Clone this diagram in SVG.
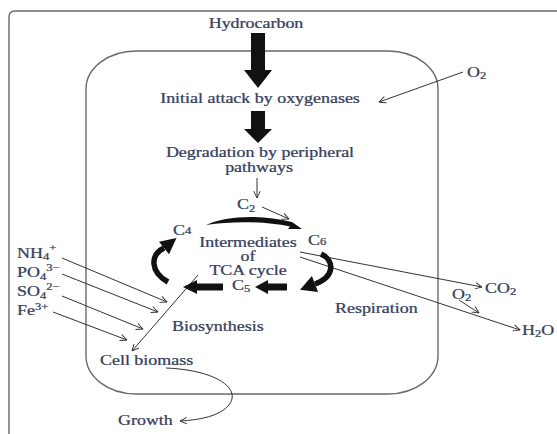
<svg xmlns="http://www.w3.org/2000/svg" width="557" height="434" viewBox="0 0 557 434">
  <defs>
    <marker id="open" viewBox="0 0 10 10" refX="9.5" refY="5" markerWidth="8" markerHeight="8" markerUnits="userSpaceOnUse" orient="auto">
      <path d="M1,1 L9.5,5 L1,9" fill="none" stroke="#333" stroke-width="1.2"/>
    </marker>
  </defs>
  <style>
    .t { font-family: "Liberation Serif", "Times New Roman", serif; font-size: 13.6px; fill: #35405c; stroke: #35405c; stroke-width: 0.25px; }
    .sub { font-size: 9.5px; }
    .thin { fill: none; stroke: #333; stroke-width: 1; marker-end: url(#open); }
    .boundary { fill: none; stroke: #6a6a6a; stroke-width: 1.4; }
    .thick { fill: #111; stroke: none; }
    .curve { fill: none; stroke: #111; stroke-width: 5.5; }
  </style>
  <rect width="557" height="434" fill="#ffffff"/>

  <g id="frame">
    <path class="boundary" d="M9,440 L9,17 Q9,11 15,11 L560,11"/>
  </g>
  <g id="cell">
    <rect class="boundary" x="86" y="51" width="352" height="343" rx="50" ry="38"/>
  </g>

  <g id="connectors">
    <path class="thick" d="M251,33 L265,33 L265,70 L272,70 L258,88 L244,70 L251,70 Z"/>
    <path class="thick" d="M251,111 L265,111 L265,129 L272,129 L258,143 L244,129 L251,129 Z"/>
    <path class="thin" d="M257,178 L257,198"/>
    <path class="thin" d="M262,207 L289,219"/>
    <path class="thin" d="M463,72 L379,102"/>
    <path class="thin" d="M300,252 L482,287"/>
    <path class="thin" d="M300,257 L520,330"/>
    <path class="thin" d="M459,300 L479,313"/>
    <path class="thin" d="M62,258 L167,302"/>
    <path class="thin" d="M62,274 L158,312"/>
    <path class="thin" d="M62,296 L143,329"/>
    <path class="thin" d="M53,312 L127,340"/>
    <path class="thin" d="M198,275 L132,351"/>
    <path class="thin" d="M166,368 C215,370 242,388 229,405 C220,416 200,420 180,421"/>
    <path class="thick" d="M206,225 C225,216 260,214 292,222 L302,229 L288,229 L290,226.5 C262,221 232,221 206,225 Z"/>
    <path class="thick" d="M287,283.5 L268,283.5 L268,280 L255,287 L268,294 L268,290.5 L287,290.5 Z"/>
    <path class="thick" d="M223,283.5 L197,283.5 L197,280 L183,287 L197,294 L197,290.5 L223,290.5 Z"/>
    <path class="curve" d="M168,282 C150,272 150,255 164,248"/>
    <path class="thick" d="M159,241.8 L176.5,238 L169,254.2 Z"/>
    <path class="curve" d="M321,254 C334,260 336,276 315,284"/>
    <path class="thick" d="M318.1,291.9 L300,289.8 L311.9,276.1 Z"/>
  </g>

  <g id="hydrocarbon"><text class="t" text-anchor="middle" transform="translate(256,28) scale(1.32,1)">Hydrocarbon</text></g>
  <g id="initial-attack"><text class="t" text-anchor="middle" transform="translate(260,102.5) scale(1.32,1)">Initial attack by oxygenases</text></g>
  <g id="degradation">
    <text class="t" text-anchor="middle" transform="translate(260,156.5) scale(1.32,1)">Degradation by peripheral</text>
    <text class="t" text-anchor="middle" transform="translate(259,172) scale(1.32,1)">pathways</text>
  </g>
  <g id="c2"><text class="t" transform="translate(237,209) scale(1.32,1)">C<tspan class="sub" dy="2.5">2</tspan></text></g>
  <g id="c4"><text class="t" transform="translate(173,235) scale(1.32,1)">C<tspan class="sub" dy="-1">4</tspan></text></g>
  <g id="c6"><text class="t" transform="translate(308,245) scale(1.32,1)">C<tspan class="sub" dy="0">6</tspan></text></g>
  <g id="c5"><text class="t" transform="translate(232,290) scale(1.32,1)">C<tspan class="sub" dy="1.5">5</tspan></text></g>
  <g id="intermediates">
    <text class="t" text-anchor="middle" transform="translate(248,247) scale(1.32,1)">Intermediates</text>
    <text class="t" text-anchor="middle" transform="translate(248,261) scale(1.32,1)">of</text>
    <text class="t" text-anchor="middle" transform="translate(248,274.5) scale(1.32,1)">TCA cycle</text>
  </g>
  <g id="nh4"><text class="t" transform="translate(17,257.5) scale(1.32,1)">NH<tspan class="sub" dy="2.5">4</tspan><tspan class="sub" dy="-9">+</tspan></text></g>
  <g id="po4"><text class="t" transform="translate(17,277) scale(1.32,1)">PO<tspan class="sub" dy="2.5">4</tspan><tspan class="sub" dy="-9">3−</tspan></text></g>
  <g id="so4"><text class="t" transform="translate(17,296) scale(1.32,1)">SO<tspan class="sub" dy="2.5">4</tspan><tspan class="sub" dy="-9">2−</tspan></text></g>
  <g id="fe"><text class="t" transform="translate(17,315) scale(1.32,1)">Fe<tspan class="sub" dy="-5">3+</tspan></text></g>
  <g id="biosynthesis"><text class="t" transform="translate(172,331) scale(1.32,1)">Biosynthesis</text></g>
  <g id="respiration"><text class="t" transform="translate(335,313) scale(1.32,1)">Respiration</text></g>
  <g id="cell-biomass"><text class="t" transform="translate(100,365) scale(1.32,1)">Cell biomass</text></g>
  <g id="growth"><text class="t" transform="translate(118,425) scale(1.32,1)">Growth</text></g>
  <g id="o2-in"><text class="t" transform="translate(467,76.5) scale(1.32,1)">O<tspan class="sub" dy="2">2</tspan></text></g>
  <g id="co2"><text class="t" transform="translate(485,293) scale(1.32,1)">CO<tspan class="sub" dy="2">2</tspan></text></g>
  <g id="o2-resp"><text class="t" transform="translate(452,299) scale(1.32,1)">O<tspan class="sub" dy="2">2</tspan></text></g>
  <g id="h2o"><text class="t" transform="translate(522,335) scale(1.32,1)">H<tspan class="sub" dy="2">2</tspan><tspan dy="-2">O</tspan></text></g>
</svg>
